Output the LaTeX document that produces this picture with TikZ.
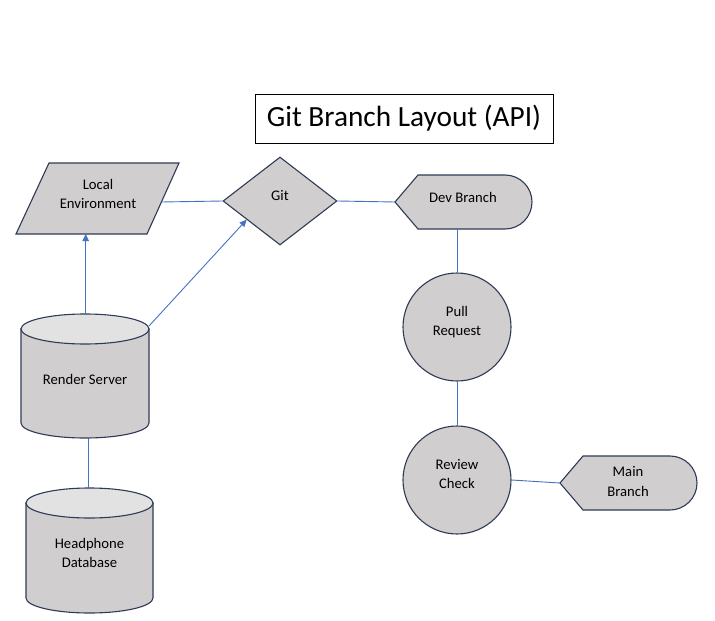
\documentclass[tikz,border=0pt]{standalone}
\usepackage{fontspec}
\setmainfont{Carlito}
\usetikzlibrary{shapes.geometric,arrows.meta,calc}
\definecolor{shapefill}{HTML}{D0CECE}
\definecolor{topfill}{HTML}{E2E2E2}
\definecolor{border}{HTML}{2F3B55}
\definecolor{conn}{HTML}{4472C4}
\begin{document}
\begin{tikzpicture}[x=1pt,y=-1pt,
  shapebox/.style={draw=border, fill=shapefill, line width=1.1pt},
  topcap/.style={draw=border, fill=topfill, line width=1.1pt},
  lbl/.style={font=\fontsize{14.67}{19.5}\selectfont, align=center, inner sep=0},
  link/.style={draw=conn, line width=0.9pt},
  arrowlink/.style={link, -{Triangle[length=7pt,width=6.5pt]}},
]
\useasboundingbox (0,0) rectangle (715,621);
\fill[white] (0,0) rectangle (715,621);

% title
\node[draw=black, line width=0.9pt, minimum width=298, minimum height=49, inner sep=0,
      font=\fontsize{29.3}{35}\selectfont] (title) at (404,118.5) {Git Branch Layout (API)};

% Local Environment (parallelogram)
\draw[shapebox] (49,163) -- (179,163) -- (147,234) -- (16,234) -- cycle;
\node[lbl] (le) at (98,194) {Local\\Environment};
\coordinate (le-s) at (85.7,234);
\coordinate (le-e) at (161.5,202);

% Render Server (cylinder)
\draw[shapebox] (21,329) -- (21,423) arc[start angle=180,end angle=0,x radius=64,y radius=15] -- (149,329) -- cycle;
\draw[topcap] (85,329) ellipse[x radius=64,y radius=15];
\node[lbl] (rs) at (85,379) {Render Server};
\coordinate (rs-n) at (85.7,314);
\coordinate (rs-ne) at (149,326);
\coordinate (rs-s) at (88,438);

% Headphone Database (cylinder)
\draw[shapebox] (26,503) -- (26,598) arc[start angle=180,end angle=0,x radius=63.5,y radius=15] -- (153,503) -- cycle;
\draw[topcap] (89.5,503) ellipse[x radius=63.5,y radius=15];
\node[lbl] (db) at (89.5,553) {Headphone\\Database};
\coordinate (db-n) at (88,488);

% Git (diamond)
\node[diamond, shapebox, minimum width=114, minimum height=88, inner sep=0,
      label={[lbl,yshift=5pt]center:Git}] (git) at (280,201) {};

% Dev Branch (display shape)
\draw[shapebox] (395,202) -- (418,175) -- (505,175) arc[start angle=-90,end angle=90,radius=27] -- (418,229) -- cycle;
\node[lbl] (dev) at (463,197) {Dev Branch};
\coordinate (dev-w) at (395,202);
\coordinate (dev-s) at (457,229);

% Pull Request / Review Check (circles)
\node[circle, shapebox, minimum size=108, inner sep=0,
      label={[lbl,yshift=5pt]center:Pull\\Request}] (pr) at (457,327) {};
\node[circle, shapebox, minimum size=108, inner sep=0,
      label={[lbl,yshift=6pt]center:Review\\Check}] (rc) at (457,480) {};

% Main Branch (display shape)
\draw[shapebox] (560,483) -- (583,456) -- (670,456) arc[start angle=-90,end angle=90,radius=27] -- (583,510) -- cycle;
\node[lbl] (main) at (628,481.5) {Main\\Branch};
\coordinate (main-w) at (560,483);

% connectors
\draw[link] (le-e) -- (git.west);
\draw[arrowlink] (rs-n) -- (le-s);
\draw[arrowlink] (rs-ne) -- ($(git.west)!0.42!(git.south)$);
\draw[link] (git.east) -- (dev-w);
\draw[link] (dev-s) -- (pr.north);
\draw[link] (pr.south) -- (rc.north);
\draw[link] (rc.east) -- (main-w);
\draw[link] (rs-s) -- (db-n);
\end{tikzpicture}
\end{document}
